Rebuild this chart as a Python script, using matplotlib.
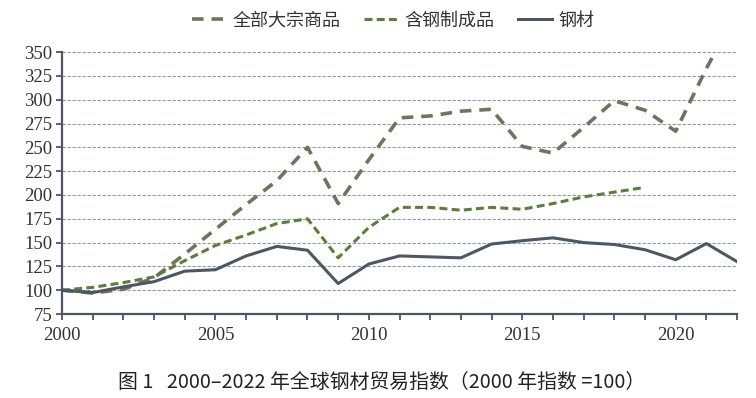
import matplotlib
matplotlib.use("Agg")
import matplotlib.pyplot as plt
from matplotlib.ticker import MultipleLocator

plt.rcParams["font.family"] = ["Noto Sans CJK SC", "DejaVu Sans"]

YEARS = list(range(2000, 2023))
# 全部大宗商品 (all commodities)
ALL_COMMOD = [100, 97, 101, 113, 138, 164, 190, 215, 250, 191, 237, 281, 283, 288, 290,
              251, 244, 271, 299, 289, 267, 333, 392]
# 含钢制成品 (steel-containing manufactures), series ends 2019
STEEL_GOODS = [100, 103, 108, 114, 131, 147, 158, 170, 175, 134, 166, 187, 187, 184, 187,
               185, 191, 198, 203, 208]
# 钢材 (steel)
STEEL = [100, 97.5, 103.5, 109, 120, 121.5, 136, 146, 142, 107, 127.5, 136, 135, 134, 148.5,
         152, 155, 150, 148, 142.5, 132, 149, 130]

LABELS = ["全部大宗商品", "含钢制成品", "钢材"]
CAPTION = "图 1   2000–2022 年全球钢材贸易指数（2000 年指数 =100）"

C_ALL = "#77705a"
C_GOODS = "#5b7f3a"
C_STEEL = "#4b5764"
AX_COL = "#4b5764"

fig = plt.figure(figsize=(7.56, 3.98), dpi=100)
ax = fig.add_axes([0.082, 0.211, 0.893, 0.658])

ax.plot(YEARS, ALL_COMMOD, color=C_ALL, lw=2.6, dashes=(3.2, 2.2), label=LABELS[0])
ax.plot(YEARS[:len(STEEL_GOODS)], STEEL_GOODS, color=C_GOODS, lw=2.2, dashes=(2.6, 1.4),
        label=LABELS[1])
ax.plot(YEARS, STEEL, color=C_STEEL, lw=2.2, label=LABELS[2])

ax.set_xlim(2000, 2022)
ax.set_ylim(75, 350)
ax.yaxis.set_major_locator(MultipleLocator(25))
ax.xaxis.set_major_locator(MultipleLocator(5))
ax.xaxis.set_minor_locator(MultipleLocator(1))
ax.grid(axis="y", color="#8f96a0", lw=0.8, ls=(0, (3, 1.5)))
ax.set_axisbelow(True)

for s in ("top", "right"):
    ax.spines[s].set_visible(False)
for s in ("left", "bottom"):
    ax.spines[s].set_color(AX_COL)
    ax.spines[s].set_linewidth(1.6)

ax.tick_params(axis="both", which="both", color=AX_COL, width=1.3, direction="out")
ax.tick_params(axis="x", which="major", length=4, pad=5.5)
ax.tick_params(axis="x", which="minor", length=4)
ax.tick_params(axis="y", length=4, pad=3)
for lab in ax.get_xticklabels() + ax.get_yticklabels():
    lab.set_fontfamily("Liberation Serif")
    lab.set_fontsize(13.5)
    lab.set_color("#333333")

leg = fig.legend(loc="center", bbox_to_anchor=(0.52, 0.948), ncol=3, frameon=False,
                 fontsize=13, handlelength=1.9, columnspacing=1.3, handletextpad=0.35)
for t in leg.get_texts():
    t.set_color("#333333")

fig.text(0.505, 0.038, CAPTION, ha="center", va="center", fontsize=14.3, color="#222222",
         fontweight="medium")

fig.savefig("out.png", dpi=100, facecolor="white")
